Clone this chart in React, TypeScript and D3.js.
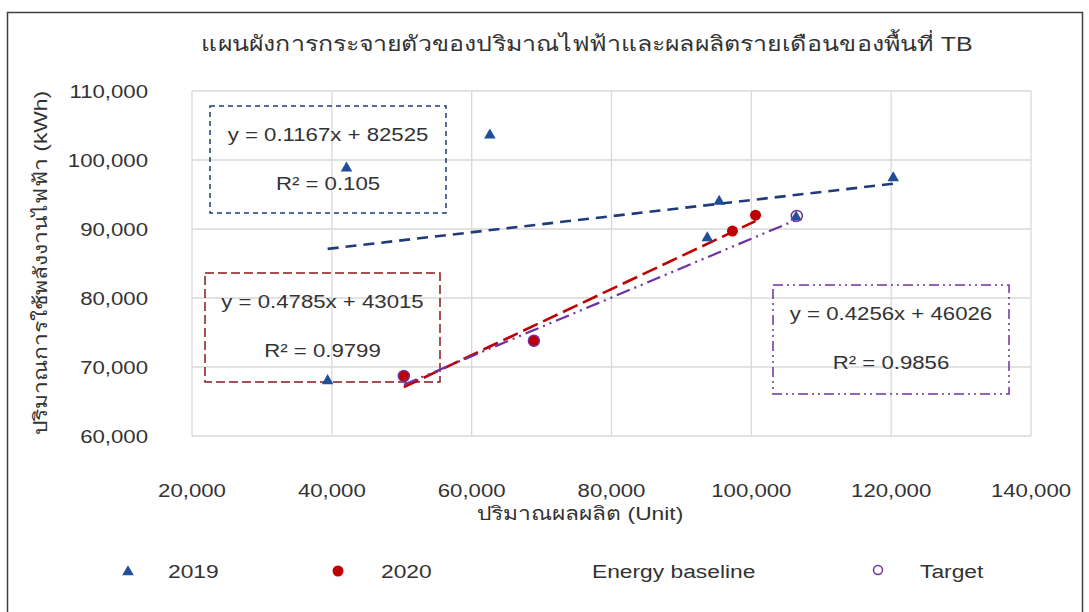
import React from "react";
import * as d3 from "d3";

const title = "แผนผังการกระจายตัวของปริมาณไฟฟ้าและผลผลิตรายเดือนของพื้นที่ TB";
const xTitle = "ปริมาณผลผลิต (Unit)";
const yTitle = "ปริมาณการใช้พลังงานไฟฟ้า (kWh)";

const xTicks = [20000, 40000, 60000, 80000, 100000, 120000, 140000];
const yTicks = [60000, 70000, 80000, 90000, 100000, 110000];

const x2019 = [39400, 42100, 62600, 93700, 95400, 106400, 120300];
const y2019 = [68000, 98800, 103600, 88700, 94000, 91700, 97400];

const x2020 = [50300, 68900, 97300, 100600];
const y2020 = [68700, 73800, 89700, 92000];

const xTarget = [50300, 68900, 106500];
const yTarget = [68700, 73800, 91900];

const trend2019 = { slope: 0.1167, intercept: 82525, r2: "0.105" };
const trend2020 = { slope: 0.4785, intercept: 43015, r2: "0.9799" };
const trendTarget = { slope: 0.4256, intercept: 46026, r2: "0.9856" };

const legendLabels = ["2019", "2020", "Energy baseline", "Target"];

const FONT = "'Liberation Sans', Arial, sans-serif";
const SX = 1.2;

function T(props: { x: number; y: number; size: number; anchor?: string; children: any; fill?: string; rotate?: number }) {
  const { x, y, size, anchor = "middle", fill = "#333333", rotate = 0 } = props;
  return (
    <text
      transform={`translate(${x},${y}) rotate(${rotate}) scale(${SX},1)`}
      fontSize={size}
      fontFamily={FONT}
      textAnchor={anchor}
      fill={fill}
    >
      {props.children}
    </text>
  );
}

export default function App() {
  const W = 1089, H = 612;
  const left = 192, right = 1031, top = 91, bottom = 436;
  const xs = d3.scaleLinear().domain([20000, 140000]).range([left, right]);
  const ys = d3.scaleLinear().domain([60000, 110000]).range([bottom, top]);
  const fmt = d3.format(",");

  const blue = "#1F4E9A";
  const blueLine = "#1F3C78";
  const red = "#C00000";
  const purple = "#7030A0";

  const line = d3.line<[number, number]>().x(d => xs(d[0])).y(d => ys(d[1]));
  const trendPath = (t: { slope: number; intercept: number }, xv: number[]) => {
    const a = d3.min(xv)!, b = d3.max(xv)!;
    return line([[a, t.slope * a + t.intercept], [b, t.slope * b + t.intercept]])!;
  };

  const tri = d3.symbol().type(d3.symbolTriangle).size(58)()!;

  const eqBox = (bx: number, by: number, bw: number, bh: number, stroke: string, dash: string, t: { slope: number; intercept: number; r2: string }) => (
    <g>
      <rect x={bx} y={by} width={bw} height={bh} fill="none" stroke={stroke} strokeWidth={1.5} strokeDasharray={dash} />
      <T x={bx + bw / 2} y={by + 35} size={18.5}>{`y = ${t.slope}x + ${t.intercept}`}</T>
      <T x={bx + bw / 2} y={by + 84} size={18.5}>{`R² = ${t.r2}`}</T>
    </g>
  );

  return (
    <svg width={W} height={H} style={{ position: "absolute", left: 0, top: 0 }}>
      <rect x={0} y={0} width={W} height={H} fill="#fff" />
      <rect x={7.5} y={12.5} width={1075} height={620} fill="none" stroke="#404040" strokeWidth={1.5} />
      <T x={587} y={51} size={20.8}>{title}</T>

      {/* grid */}
      {yTicks.map(v => (
        <line key={"gy" + v} x1={left} x2={right} y1={ys(v)} y2={ys(v)} stroke="#d9d9d9" strokeWidth={1.3} />
      ))}
      {xTicks.map(v => (
        <line key={"gx" + v} x1={xs(v)} x2={xs(v)} y1={top} y2={bottom} stroke="#d9d9d9" strokeWidth={1.3} />
      ))}

      {/* tick labels */}
      {yTicks.map(v => (
        <T key={"ty" + v} x={148} y={ys(v) + 7} size={18.5} anchor="end">{fmt(v)}</T>
      ))}
      {xTicks.map(v => (
        <T key={"tx" + v} x={xs(v)} y={497} size={18.5}>{fmt(v)}</T>
      ))}
      <T x={580} y={520} size={19}>{xTitle}</T>
      <T x={47} y={263} size={19} rotate={-90}>{yTitle}</T>

      {/* equation boxes */}
      {eqBox(210, 106, 236, 107, blueLine, "5,4", trend2019)}
      {eqBox(205, 273, 235, 109, "#8B1A1A", "9,4", trend2020)}
      {eqBox(773, 285, 236, 109, purple, "10,4,2,4,2,4", trendTarget)}

      {/* trendlines */}
      <path d={trendPath(trend2019, x2019)} stroke={blueLine} strokeWidth={2.6} strokeDasharray="11,7" fill="none" />
      <path d={trendPath(trend2020, x2020)} stroke={red} strokeWidth={2.6} strokeDasharray="16,6" fill="none" />
      <path d={trendPath(trendTarget, xTarget)} stroke={purple} strokeWidth={2.2} strokeDasharray="14,5,2,5,2,5" fill="none" />

      {/* points */}
      {x2019.map((v, i) => (
        <path key={"p19" + i} d={tri} transform={`translate(${xs(v)},${ys(y2019[i])})`} fill={blue} />
      ))}
      {x2020.map((v, i) => (
        <circle key={"p20" + i} cx={xs(v)} cy={ys(y2020[i])} r={5.5} fill={red} />
      ))}
      {xTarget.map((v, i) => (
        <circle key={"pt" + i} cx={xs(v)} cy={ys(yTarget[i])} r={5.5} fill="none" stroke={purple} strokeWidth={1.5} />
      ))}

      {/* legend */}
      <path d={tri} transform="translate(128,572)" fill={blue} />
      <T x={168} y={578} size={19} anchor="start">{legendLabels[0]}</T>
      <circle cx={338} cy={571} r={5.5} fill={red} />
      <T x={381} y={578} size={19} anchor="start">{legendLabels[1]}</T>
      <T x={592} y={578} size={19} anchor="start">{legendLabels[2]}</T>
      <circle cx={878} cy={570} r={4.5} fill="none" stroke={purple} strokeWidth={1.5} />
      <T x={920} y={578} size={19} anchor="start">{legendLabels[3]}</T>
    </svg>
  );
}
